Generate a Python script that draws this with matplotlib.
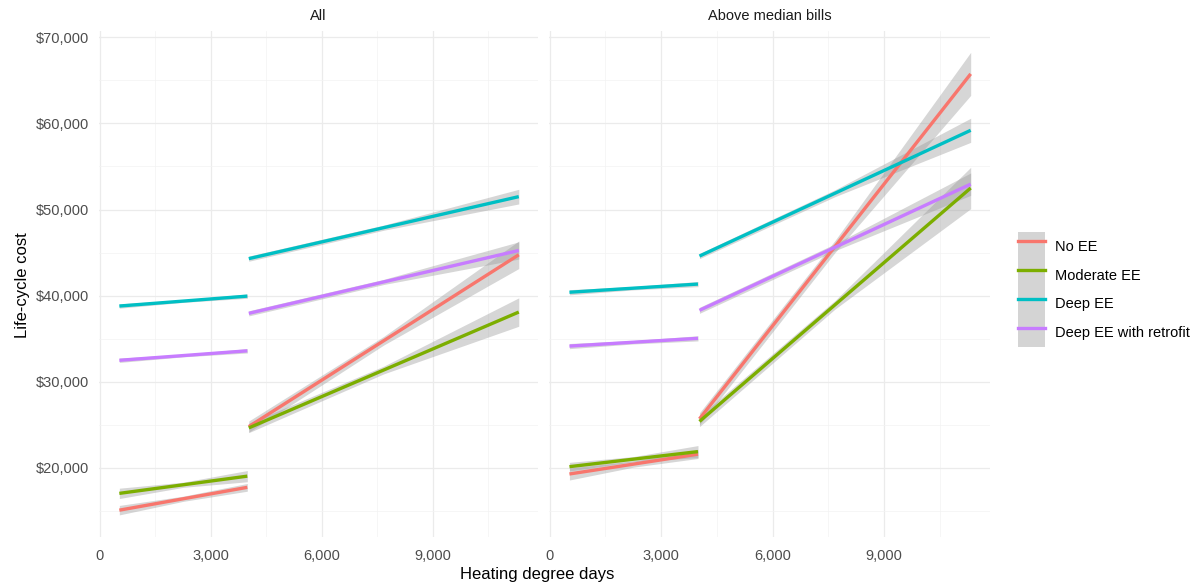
import matplotlib
matplotlib.use("Agg")
import matplotlib.pyplot as plt
import numpy as np
from matplotlib.lines import Line2D
from matplotlib.patches import Patch
from matplotlib.ticker import FuncFormatter, MultipleLocator

plt.rcParams['font.family'] = ['Liberation Sans', 'DejaVu Sans']

# series and panels
series_names = ['No EE', 'Moderate EE', 'Deep EE', 'Deep EE with retrofit']
series_colors = ['#F8766D', '#7CAE00', '#00BFC4', '#C77CFF']
panel_titles = ['All', 'Above median bills']

# heating degree days at start / middle / end of each fitted segment
seg1_x = [530, 2260, 3990]
seg2_x = [4030, 7680, 11330]

# fitted life-cycle cost at segment start and end, per panel and series
all_seg1 = {'No EE': [15100, 17750], 'Moderate EE': [17050, 19050],
            'Deep EE': [38800, 39950], 'Deep EE with retrofit': [32500, 33600]}
all_seg2 = {'No EE': [24800, 44750], 'Moderate EE': [24650, 38100],
            'Deep EE': [44300, 51500], 'Deep EE with retrofit': [37950, 45250]}
above_seg1 = {'No EE': [19300, 21600], 'Moderate EE': [20150, 21900],
              'Deep EE': [40400, 41350], 'Deep EE with retrofit': [34150, 35050]}
above_seg2 = {'No EE': [25700, 65750], 'Moderate EE': [25400, 52500],
              'Deep EE': [44600, 59200], 'Deep EE with retrofit': [38300, 52950]}

# confidence band half-width at start / middle / end
all_ci1 = {'No EE': [550, 300, 450], 'Moderate EE': [600, 300, 650],
           'Deep EE': [250, 150, 250], 'Deep EE with retrofit': [250, 150, 250]}
all_ci2 = {'No EE': [650, 500, 1600], 'Moderate EE': [550, 450, 1650],
           'Deep EE': [300, 300, 850], 'Deep EE with retrofit': [300, 300, 1000]}
above_ci1 = {'No EE': [700, 350, 500], 'Moderate EE': [500, 300, 700],
             'Deep EE': [300, 200, 300], 'Deep EE with retrofit': [300, 200, 300]}
above_ci2 = {'No EE': [700, 700, 2500], 'Moderate EE': [600, 500, 2400],
             'Deep EE': [300, 400, 1400], 'Deep EE with retrofit': [350, 400, 1300]}

y_ticks = [20000, 30000, 40000, 50000, 60000, 70000]
x_ticks = [0, 3000, 6000, 9000]

W, H = 1196, 586
fig = plt.figure(figsize=(W / 100, H / 100), dpi=100)


def px_axes(left, top, right, bottom):
    return fig.add_axes([left / W, 1 - bottom / H, (right - left) / W, (bottom - top) / H])


axes = [px_axes(99, 31, 538, 537), px_axes(549, 31, 990, 537)]
panel_data = [(all_seg1, all_seg2, all_ci1, all_ci2),
              (above_seg1, above_seg2, above_ci1, above_ci2)]

for ax, title, (s1, s2, c1, c2) in zip(axes, panel_titles, panel_data):
    for name, color in zip(series_names, series_colors):
        for xs, ends, ci in ((seg1_x, s1[name], c1[name]), (seg2_x, s2[name], c2[name])):
            xs = np.array(xs, dtype=float)
            yc = np.interp(xs, [xs[0], xs[-1]], ends)
            hw = np.array(ci, dtype=float)
            ax.fill_between(xs, yc - hw, yc + hw, color='#999999', alpha=0.4, lw=0)
            ax.plot([xs[0], xs[-1]], ends, color=color, lw=2.4, solid_capstyle='butt')

    ax.set_xlim(-20, 11850)
    ax.set_ylim(11985, 70730)
    ax.set_xticks(x_ticks)
    ax.set_yticks(y_ticks)
    ax.xaxis.set_minor_locator(MultipleLocator(1500))
    ax.yaxis.set_minor_locator(MultipleLocator(5000))
    ax.xaxis.set_major_formatter(FuncFormatter(lambda v, p: f"{int(v):,}"))
    ax.yaxis.set_major_formatter(FuncFormatter(lambda v, p: f"${int(v):,}"))
    ax.grid(which='major', color='#EBEBEB', lw=0.9)
    ax.grid(which='minor', color='#F3F3F3', lw=0.5)
    ax.set_axisbelow(True)
    for sp in ax.spines.values():
        sp.set_visible(False)
    ax.tick_params(which='both', length=0, labelsize=10.5, labelcolor='#4D4D4D')
    ax.tick_params(axis='x', pad=9)
    ax.tick_params(axis='y', pad=7)
    ax.set_title(title, fontsize=10.5, color='#1A1A1A', pad=8)

axes[1].tick_params(axis='y', labelleft=False)

fig.text(22 / W, 1 - 285 / H, 'Life-cycle cost', rotation=90, fontsize=12,
         ha='center', va='center')
fig.text(537 / W, 1 - 574 / H, 'Heating degree days', fontsize=12,
         ha='center', va='center')

handles = [(Patch(facecolor='#D4D4D4', edgecolor='none'), Line2D([], [], color=c, lw=2.4))
           for c in series_colors]
fig.legend(handles, series_names, loc='upper left', bbox_to_anchor=(1005 / W, 1 - 219 / H),
           frameon=False, fontsize=10.5, labelspacing=0.0, handlelength=1.85,
           handleheight=2.65, handletextpad=0.7, borderpad=0.4)

fig.savefig('out.png', dpi=100)
